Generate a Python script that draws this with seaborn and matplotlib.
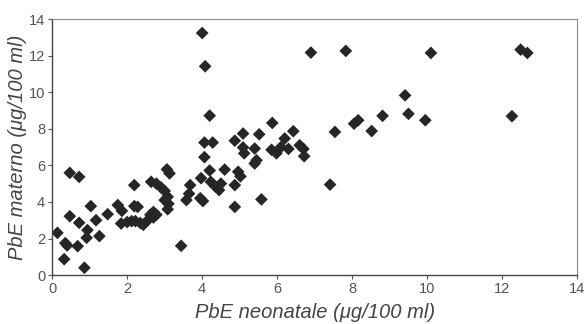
import numpy as np
import pandas as pd
import matplotlib
matplotlib.use("Agg")
import matplotlib.pyplot as plt
import seaborn as sns

# values
neonatale = [
    0.14, 0.35, 0.40, 0.68, 0.32, 0.86, 0.47, 0.72, 0.47, 0.72,
    1.03, 0.94, 0.92, 1.17, 1.26, 1.48, 1.75, 1.86, 1.84, 2.19,
    2.19, 2.28, 2.00, 2.12, 2.22, 2.35, 2.43, 2.55, 2.62, 2.70,
    2.78, 2.70, 2.64, 2.78, 2.90, 3.00, 3.06, 3.13, 3.08, 3.10,
    3.08, 3.00, 3.44, 3.68, 3.65, 3.58, 3.95, 4.02, 3.97, 4.06,
    4.20, 4.23, 4.35, 4.45, 4.50, 4.60, 4.87, 4.87, 4.96, 5.02,
    4.00, 4.08, 4.20, 4.06, 4.28, 4.87, 5.09, 5.09, 5.12, 5.40,
    5.52, 5.45, 5.40, 5.58, 5.87, 5.85, 5.98, 6.20, 6.10, 6.30,
    6.43, 6.60, 6.70, 6.72, 6.90, 7.41, 7.54, 8.05, 8.16, 8.52,
    8.81, 9.41, 9.50, 9.95, 7.83, 10.10, 12.26, 12.49, 12.67,
]
materno = [
    2.31, 1.75, 1.62, 1.58, 0.87, 0.40, 5.59, 5.37, 3.22, 2.86,
    3.77, 2.46, 2.04, 3.00, 2.13, 3.33, 3.83, 3.51, 2.82, 4.92,
    3.77, 3.73, 2.90, 2.95, 2.95, 2.85, 2.75, 3.00, 3.30, 3.45,
    3.30, 3.15, 5.10, 5.00, 4.80, 4.60, 5.78, 5.56, 4.28, 3.90,
    3.60, 4.10, 1.60, 4.92, 4.45, 4.10, 4.20, 4.05, 5.30, 6.45,
    5.72, 5.10, 4.85, 4.65, 5.00, 5.77, 4.92, 3.73, 5.65, 5.40,
    13.24, 11.42, 8.72, 7.25, 7.25, 7.35, 7.74, 6.98, 6.66, 6.92,
    7.70, 6.28, 6.10, 4.14, 8.32, 6.85, 6.66, 7.47, 7.00, 6.90,
    7.87, 7.10, 6.90, 6.50, 12.17, 4.95, 7.83, 8.28, 8.47, 7.88,
    8.71, 9.83, 8.82, 8.47, 12.26, 12.15, 8.69, 12.33, 12.15,
]
ticks = [0, 2, 4, 6, 8, 10, 12, 14]

df = pd.DataFrame({"neonatale": neonatale, "materno": materno})

sns.set_theme(style="white")
plt.rcParams["font.family"] = ["Liberation Sans", "DejaVu Sans"]

fig = plt.figure(figsize=(5.86, 3.24), dpi=100)
ax = fig.add_axes([0.089, 0.151, 0.896, 0.790])

sns.scatterplot(data=df, x="neonatale", y="materno", marker="D", s=42,
                color="#262626", edgecolor="none", ax=ax, legend=False)

ax.set_xlim(0, 14)
ax.set_ylim(0, 14)
ax.set_xticks(ticks)
ax.set_yticks(ticks)
ax.tick_params(axis="both", labelsize=10.5, labelcolor="#555555", color="#555555",
               length=3, width=0.8, direction="out", bottom=True, left=True, pad=2)

for side in ["left", "bottom"]:
    ax.spines[side].set_color("#444444")
    ax.spines[side].set_linewidth(1.0)
for side in ["top", "right"]:
    ax.spines[side].set_color("#888888")
    ax.spines[side].set_linewidth(0.8)

ax.set_xlabel("PbE neonatale (μg/100 ml)", fontsize=14.5, style="italic",
              color="#444444", labelpad=5)
ax.set_ylabel("PbE materno (μg/100 ml)", fontsize=14.5, style="italic",
              color="#444444", labelpad=1)

fig.savefig("out.png", dpi=100, facecolor="white")
